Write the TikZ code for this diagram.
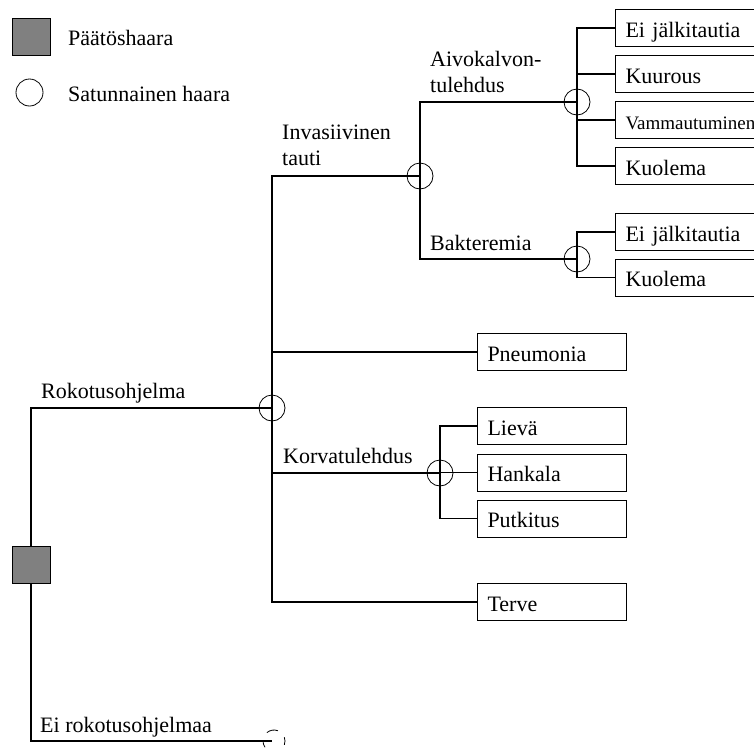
\documentclass[tikz,border=0pt]{standalone}
\usepackage{fontspec}
\setmainfont{Liberation Serif}
\begin{document}
\begin{tikzpicture}[x=1pt, y=-1pt,
    font=\fontsize{22}{26}\selectfont,
    branch/.style={line width=1.6pt},
    chance/.style={circle, draw, line width=0.8pt, minimum size=26pt, inner sep=0pt},
    decision/.style={rectangle, draw, line width=0.8pt, fill=gray,
        minimum width=38pt, minimum height=37pt, inner sep=0pt},
    outcome/.style={rectangle, draw, line width=1pt, anchor=west,
        minimum height=37pt, text height=18pt, text depth=0pt,
        inner xsep=10pt, text width=129pt, align=left},
    lbl/.style={anchor=base west, inner sep=0pt, align=left}]
\useasboundingbox (0,0) rectangle (754,747);
\clip (0,0) rectangle (754,747);

% legend
\node[decision] (legDec) at (31,36.5) {};
\node[lbl] (legDecTxt) at (68,45) {Päätöshaara};
\node[chance, minimum size=27pt] (legCh) at (29.5,92.5) {};
\node[lbl] (legChTxt) at (68,101) {Satunnainen haara};

% decision and chance nodes
\node[decision] (dec) at (31,565) {};
\node[chance] (cRok) at (272,408) {};
\node[chance] (cInv) at (420,176) {};
\node[chance] (cAivo) at (577,102) {};
\node[chance] (cBak) at (577,259) {};
\node[chance] (cKorv) at (440,473) {};
\coordinate (cEi) at (274,741);

% outcomes
\node[outcome] (pneu) at (477,352) {Pneumonia};
\node[outcome] (terve) at (477,602) {Terve};
\foreach \name/\y/\txt in {lieva/426/Lievä, hankala/472.5/Hankala,
    putkitus/518.5/Putkitus} {
    \node[outcome] (\name) at (477,\y) {\txt};
    \draw[branch] (cKorv.center) |- (\name.west);
}
\foreach \name/\y/\txt in {aEi/28/Ei jälkitautia, aKuu/74/Kuurous,
    aVam/120/{\fontsize{19}{22}\selectfont Vammautuminen}, aKuo/166/Kuolema} {
    \node[outcome, text width=140pt] (\name) at (615,\y) {\txt};
    \draw[branch] (cAivo.center) |- (\name.west);
}
\foreach \name/\y/\txt in {bEi/232/Ei jälkitautia, bKuo/277.5/Kuolema} {
    \node[outcome, text width=140pt] (\name) at (615,\y) {\txt};
    \draw[branch] (cBak.center) |- (\name.west);
}

% branches
\draw[branch] (dec.north) |- (cRok.center);
\draw[branch] (dec.south) |- ([xshift=-2pt]cEi);
\draw[branch] (cRok.center) |- (cInv.center);
\draw[branch] (cRok.center) |- (pneu.west);
\draw[branch] (cRok.center) |- (cKorv.center);
\draw[branch] (cRok.center) |- (terve.west);
\draw[branch] (cInv.center) |- (cAivo.center);
\draw[branch] (cInv.center) |- (cBak.center);
\foreach \a/\b in {-69/-130, 20/-20, -180/-215}
    \draw[line width=0.8pt] (cEi) ++(\a:11) arc[start angle=\a, end angle=\b, radius=11];

% branch labels
\node[lbl] (lRok) at (41,398) {Rokotusohjelma};
\node[lbl] (lEi) at (40,732) {Ei rokotusohjelmaa};
\node[lbl] (lInv) at (282,165) {Invasiivinen\\tauti};
\node[lbl] (lAivo) at (430,92) {Aivokalvon-\\tulehdus};
\node[lbl] (lBak) at (430,250) {Bakteremia};
\node[lbl] (lKorv) at (283,463) {Korvatulehdus};
\end{tikzpicture}
\end{document}
